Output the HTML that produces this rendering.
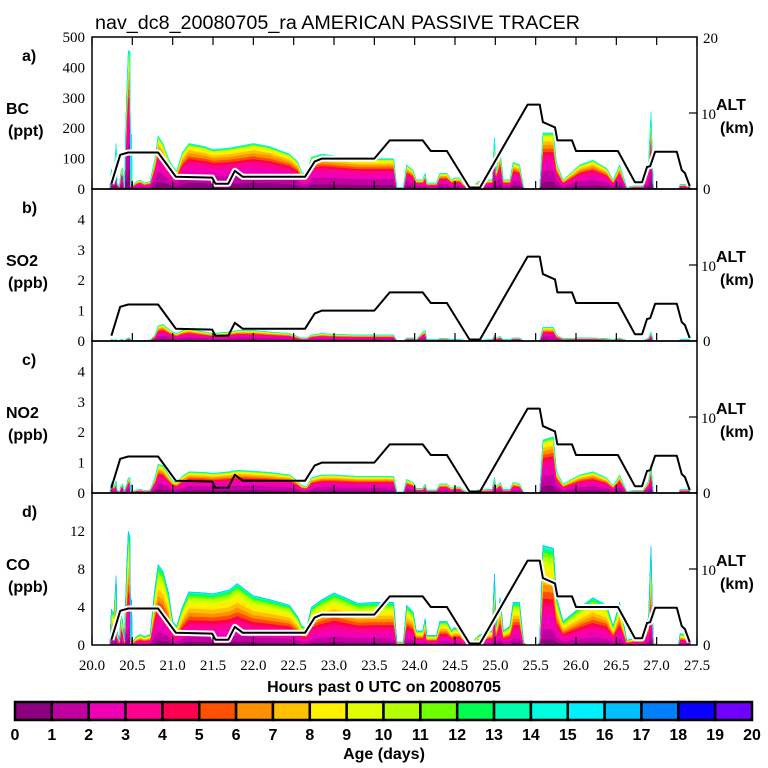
<!DOCTYPE html>
<html><head><meta charset="utf-8"><style>
html,body{margin:0;padding:0;background:#fff;}
svg{display:block;}
text{font-family:"Liberation Sans",sans-serif;}
.tk{font-family:"Liberation Serif",serif;font-size:15px;}
.lb{font-weight:bold;font-size:16px;}
</style></head><body>
<svg id="chart" width="768" height="768" viewBox="0 0 768 768" xmlns="http://www.w3.org/2000/svg">
<rect width="768" height="768" fill="#fff"/>
<text x="95" y="29" font-size="19" textLength="485" lengthAdjust="spacingAndGlyphs">nav_dc8_20080705_ra AMERICAN PASSIVE TRACER</text>
<g id="plots"></g>
<text x="384" y="692" text-anchor="middle" class="lb">Hours past 0 UTC on 20080705</text>
<g id="cbar"></g>
<text x="384" y="759" text-anchor="middle" class="lb">Age (days)</text>
</svg>
<script>
const times = [20.22,20.24,20.27,20.30,20.31,20.34,20.36,20.38,20.40,20.43,20.45,20.47,20.48,20.49,20.50,20.55,20.60,20.65,20.72,20.78,20.82,20.88,20.95,21.00,21.05,21.12,21.20,21.40,21.50,21.70,21.80,22.00,22.20,22.45,22.55,22.60,22.66,22.72,22.85,23.00,23.30,23.50,23.74,23.78,23.86,23.90,23.98,24.02,24.10,24.13,24.15,24.27,24.31,24.40,24.46,24.48,24.56,24.60,24.68,24.79,24.93,24.96,24.99,25.01,25.06,25.10,25.18,25.22,25.30,25.35,25.39,25.53,25.55,25.59,25.72,25.76,25.84,26.05,26.21,26.38,26.46,26.54,26.63,26.71,26.83,26.90,26.93,26.95,26.96,27.00,27.27,27.29,27.41,27.42];
const bcValues = [0,65,40,150,20,10,60,70,5,320,455,455,10,180,10,25,30,20,25,100,175,150,100,75,60,120,150,140,130,135,140,150,140,115,90,55,50,105,115,110,100,100,100,5,5,80,62,30,30,52,20,20,52,52,30,36,36,20,0,25,30,30,170,60,120,30,30,88,80,5,0,0,5,185,185,85,30,80,95,68,30,80,5,10,10,88,255,80,5,0,0,15,15,0];
const so2Values = [0,0.05,0.03,0.05,0.02,0.01,0.05,0.05,0.01,0.08,0.1,0.1,0.01,0.05,0.01,0.02,0.02,0.02,0.03,0.2,0.5,0.55,0.4,0.3,0.25,0.35,0.4,0.3,0.25,0.3,0.35,0.35,0.3,0.25,0.15,0.1,0.1,0.2,0.25,0.22,0.2,0.2,0.2,0.01,0.01,0.1,0.1,0.05,0.3,0.35,0.05,0.05,0.08,0.08,0.05,0.05,0.05,0.03,0,0.03,0.05,0.05,0.2,0.1,0.15,0.05,0.05,0.1,0.1,0.01,0,0,0.01,0.45,0.45,0.2,0.08,0.1,0.1,0.08,0.05,0.1,0.02,0.02,0.02,0.1,0.3,0.1,0.01,0,0,0.05,0.05,0];
const no2Values = [0,0.35,0.2,0.4,0.1,0.05,0.25,0.3,0.05,0.3,0.5,0.5,0.05,0.3,0.05,0.1,0.12,0.08,0.1,0.5,0.95,0.9,0.6,0.4,0.35,0.55,0.7,0.68,0.65,0.7,0.75,0.72,0.68,0.6,0.4,0.25,0.22,0.5,0.6,0.6,0.55,0.55,0.55,0.03,0.03,0.45,0.35,0.15,0.15,0.3,0.1,0.1,0.3,0.3,0.15,0.2,0.2,0.1,0,0.1,0.12,0.12,0.5,0.2,0.35,0.12,0.12,0.35,0.3,0.03,0,0,0.05,1.75,1.85,0.7,0.3,0.6,0.7,0.5,0.25,0.6,0.05,0.08,0.08,0.4,0.95,0.3,0.03,0,0,0.12,0.12,0];
const coValues = [0,3.8,3.2,7.3,1.5,0.5,3.3,2.5,0.5,8.3,12,11.5,0.3,4.8,0.3,0.9,1.1,0.9,1.1,6,8.5,7.8,5.5,2.5,2.0,4.0,5.6,5.5,5.4,5.8,6.5,5.2,4.8,4.2,3.0,2.0,1.8,4.0,4.8,5.5,4.4,4.5,4.5,0.3,0.3,4.2,3.5,1.5,1.5,2.8,1.0,1.0,2.5,2.5,1.5,1.8,1.8,1.0,0,1.0,1.5,1.5,7.5,2.0,5.0,1.5,2.0,4.5,4.5,0.3,0,0,0.5,10.5,10.2,5.0,2.5,4.0,5.0,4.2,2.0,4.5,0.5,0.7,0.7,3.0,10.4,3.0,0.3,0,0,1.2,1.0,0];
const altTimes = [20.24,20.35,20.45,20.82,21.04,21.49,21.53,21.69,21.77,21.87,22.64,22.76,22.85,23.5,23.69,24.1,24.2,24.4,24.68,24.81,25.09,25.4,25.55,25.59,25.74,25.77,25.95,26.0,26.52,26.73,26.82,26.88,26.92,26.98,27.25,27.31,27.35,27.41];
const altKm = [0.7,4.5,4.8,4.8,1.6,1.5,0.7,0.7,2.4,1.6,1.6,3.6,4.0,4.0,6.4,6.4,5.0,5.0,0.2,0.2,5.4,11.1,11.1,8.8,8.1,6.4,6.4,5.0,5.0,0.9,0.9,2.9,3.0,4.9,4.9,2.5,2.1,0.4];
const ageColors = ["#8c0080","#c000a0","#f000b4","#ff0090","#ff0050","#ff5000","#ff9000","#ffc000","#fff000","#e0ff00","#b4ff00","#6eff00","#00ff50","#00ffaa","#00ffe0","#00f0ff","#00bfff","#0080ff","#0a00ff","#7000ff"];
const ageLabels = ["0","1","2","3","4","5","6","7","8","9","10","11","12","13","14","15","16","17","18","19","20"];
const cumFracA = [0.14,0.33,0.5,0.6,0.66,0.72,0.79,0.85,0.91,0.94,0.96,0.975,0.985,0.99,0.995,1,1,1,1,1];
const cumFracCO = [0.06,0.16,0.3,0.4,0.47,0.54,0.61,0.69,0.77,0.84,0.89,0.93,0.96,0.98,0.99,0.996,1,1,1,1];
const xTicks = [20.0,20.5,21.0,21.5,22.0,22.5,23.0,23.5,24.0,24.5,25.0,25.5,26.0,26.5,27.0,27.5];

const NS="http://www.w3.org/2000/svg";
const X0=92,X1=697,T0=20,T1=27.5,PH=152;
const xs=t=>X0+(t-T0)/(T1-T0)*(X1-X0);
function mk(tag,attrs,parent){const e=document.createElementNS(NS,tag);for(const k in attrs)e.setAttribute(k,attrs[k]);parent.appendChild(e);return e;}
const plots=document.getElementById('plots');
const panels=[
 {key:'bc',letter:'a)',name:'BC',unit:'(ppt)',vals:bcValues,max:500,ticks:[0,100,200,300,400,500],cum:cumFracA,white:true},
 {key:'so2',letter:'b)',name:'SO2',unit:'(ppb)',vals:so2Values,max:5,ticks:[0,1,2,3,4],cum:cumFracA,white:false},
 {key:'no2',letter:'c)',name:'NO2',unit:'(ppb)',vals:no2Values,max:5,ticks:[0,1,2,3,4],cum:cumFracA,white:false},
 {key:'co',letter:'d)',name:'CO',unit:'(ppb)',vals:coValues,max:16,ticks:[0,4,8,12],cum:cumFracCO,white:true}
];
panels.forEach((p,i)=>{
 const top=37+i*PH, bot=top+PH;
 const ys=v=>bot-v/p.max*PH;
 const ya=k=>bot-k/20*PH;
 const g=mk('g',{},plots);
 
 
 for(let b=0;b<20;b++){
   const lo=b===0?0:p.cum[b-1], hi=p.cum[b];
   if(hi<=lo)continue;
   let up=[],dn=[];
   times.forEach((t,j)=>{up.push(xs(t).toFixed(1)+','+ys(p.vals[j]*hi).toFixed(1));});
   for(let j=times.length-1;j>=0;j--)dn.push(xs(times[j]).toFixed(1)+','+ys(p.vals[j]*lo).toFixed(1));
   const poly=mk('polygon',{points:up.concat(dn).join(' '),fill:ageColors[b],stroke:ageColors[b],'stroke-width':0.4},g);
   
   
 }
 const pts=altTimes.map((t,j)=>xs(t).toFixed(1)+','+ya(altKm[j]).toFixed(1)).join(' ');
 if(p.white){const w=mk('polyline',{points:pts,fill:'none',stroke:'#fff','stroke-width':6,'stroke-linejoin':'round'},g);
   
   }
 const al=mk('polyline',{points:pts,fill:'none',stroke:'#000','stroke-width':2,'stroke-linejoin':'round'},g);
 
 
 const fr=mk('rect',{x:X0,y:top,width:X1-X0,height:PH,fill:'none',stroke:'#000','stroke-width':1.5},g);
 
 
 xTicks.forEach(t=>{
   const l=mk('line',{x1:xs(t),x2:xs(t),y1:bot,y2:bot-8,stroke:'#000','stroke-width':1.2},g);
   
   
   if(i===0){const l2=mk('line',{x1:xs(t),x2:xs(t),y1:top,y2:top+8,stroke:'#000','stroke-width':1.2},g);
     
     }
 });
 const rt=mk('line',{x1:X1,x2:X1-8,y1:ya(10),y2:ya(10),stroke:'#000','stroke-width':1.2},g);
 
 
 p.ticks.forEach(v=>{
   const tx=mk('text',{x:85,y:ys(v)+5,'text-anchor':'end',class:'tk'},g);
   tx.textContent=String(v);
   
   
 });
 const labs=[[p.letter,22,top+24],[p.name,6,top+77],[p.unit,8,top+99]];
 labs.forEach((a,k)=>{const tx=mk('text',{x:a[1],y:a[2],class:'lb'},g);tx.textContent=a[0];
   
   });
 const r0=mk('text',{x:703,y:bot+5,class:'tk'},g);r0.textContent='0';
 
 
 const r10=mk('text',{x:701,y:ya(10)+6,class:'tk'},g);r10.textContent='10';
 
 
 const ra=mk('text',{x:716,y:ya(10)-3,class:'lb'},g);ra.textContent='ALT';
 
 
 const rk=mk('text',{x:720,y:ya(10)+20,class:'lb'},g);rk.textContent='(km)';
 
 
 if(i===0){const r20=mk('text',{x:703,y:top+6,class:'tk'},g);r20.textContent='20';
   
   }
});
xTicks.forEach(t=>{
 const tx=mk('text',{x:xs(t),y:670,'text-anchor':'middle',class:'tk'},plots);
 tx.textContent=t.toFixed(1);
 
 
});
const cb=document.getElementById('cbar');
const CB0=15,CB1=752,cw=(CB1-CB0)/20;
ageColors.forEach((c,k)=>{
 const r=mk('rect',{x:CB0+k*cw,y:702,width:cw,height:18,fill:c,stroke:'#000','stroke-width':2.5},cb);
 
 
});
ageLabels.forEach((s,k)=>{
 const tx=mk('text',{x:CB0+k*cw,y:740,'text-anchor':'middle',class:'lb'},cb);
 tx.textContent=s;
 
 
});
</script>
</body></html>
